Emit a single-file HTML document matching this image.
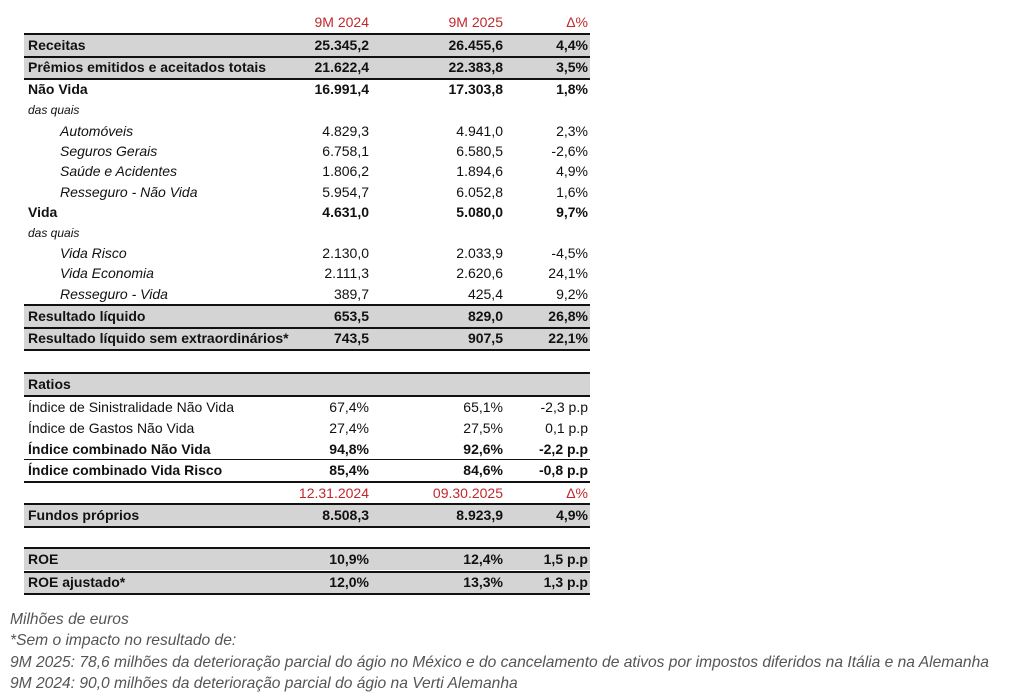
<!DOCTYPE html>
<html><head><meta charset="utf-8"><style>
body{margin:0;width:1015px;height:698px;background:#fff;position:relative;font-family:"Liberation Sans",sans-serif;color:#111;overflow:hidden}
.r{position:absolute;left:24px;width:566px;height:21px;font-size:14px;line-height:21px}
.g{background:#d4d4d4}
.b{font-weight:bold}
.l{position:absolute;left:4px;white-space:nowrap}
.s{left:36px;font-style:italic}
.d{left:4px;font-style:italic;font-size:12px}
.c1,.c2,.c3{position:absolute;text-align:right;white-space:nowrap}
.c1{right:221px}.c2{right:87px}.c3{right:2px}
.red{color:#c0282d}
.hl{position:absolute;left:24px;width:566px;background:#111}
.f{position:absolute;left:10px;font-size:15.6px;font-style:italic;color:#555;white-space:nowrap}
</style></head><body>
<div class="r red" style="top:12px"><span class="c1">9M 2024</span><span class="c2">9M 2025</span><span class="c3">Δ%</span></div>
<div class="r g b" style="top:35px"><span class="l">Receitas</span><span class="c1">25.345,2</span><span class="c2">26.455,6</span><span class="c3">4,4%</span></div>
<div class="r g b" style="top:57px"><span class="l">Prêmios emitidos e aceitados totais</span><span class="c1">21.622,4</span><span class="c2">22.383,8</span><span class="c3">3,5%</span></div>
<div class="r b" style="top:79px"><span class="l">Não Vida</span><span class="c1">16.991,4</span><span class="c2">17.303,8</span><span class="c3">1,8%</span></div>
<div class="r" style="top:100px"><span class="l d">das quais</span></div>
<div class="r" style="top:121px"><span class="l s">Automóveis</span><span class="c1">4.829,3</span><span class="c2">4.941,0</span><span class="c3">2,3%</span></div>
<div class="r" style="top:141px"><span class="l s">Seguros Gerais</span><span class="c1">6.758,1</span><span class="c2">6.580,5</span><span class="c3">-2,6%</span></div>
<div class="r" style="top:161px"><span class="l s">Saúde e Acidentes</span><span class="c1">1.806,2</span><span class="c2">1.894,6</span><span class="c3">4,9%</span></div>
<div class="r" style="top:182px"><span class="l s">Resseguro - Não Vida</span><span class="c1">5.954,7</span><span class="c2">6.052,8</span><span class="c3">1,6%</span></div>
<div class="r b" style="top:202px"><span class="l">Vida</span><span class="c1">4.631,0</span><span class="c2">5.080,0</span><span class="c3">9,7%</span></div>
<div class="r" style="top:223px"><span class="l d">das quais</span></div>
<div class="r" style="top:243px"><span class="l s">Vida Risco</span><span class="c1">2.130,0</span><span class="c2">2.033,9</span><span class="c3">-4,5%</span></div>
<div class="r" style="top:263px"><span class="l s">Vida Economia</span><span class="c1">2.111,3</span><span class="c2">2.620,6</span><span class="c3">24,1%</span></div>
<div class="r" style="top:284px"><span class="l s">Resseguro - Vida</span><span class="c1">389,7</span><span class="c2">425,4</span><span class="c3">9,2%</span></div>
<div class="r g b" style="top:306px"><span class="l">Resultado líquido</span><span class="c1">653,5</span><span class="c2">829,0</span><span class="c3">26,8%</span></div>
<div class="r g b" style="top:328px"><span class="l">Resultado líquido sem extraordinários*</span><span class="c1">743,5</span><span class="c2">907,5</span><span class="c3">22,1%</span></div>
<div class="r g b" style="top:374px"><span class="l">Ratios</span></div>
<div class="r" style="top:397px"><span class="l">Índice de Sinistralidade Não Vida</span><span class="c1">67,4%</span><span class="c2">65,1%</span><span class="c3">-2,3 p.p</span></div>
<div class="r" style="top:418px"><span class="l">Índice de Gastos Não Vida</span><span class="c1">27,4%</span><span class="c2">27,5%</span><span class="c3">0,1 p.p</span></div>
<div class="r b" style="top:439px"><span class="l">Índice combinado Não Vida</span><span class="c1">94,8%</span><span class="c2">92,6%</span><span class="c3">-2,2 p.p</span></div>
<div class="r b" style="top:460px"><span class="l">Índice combinado Vida Risco</span><span class="c1">85,4%</span><span class="c2">84,6%</span><span class="c3">-0,8 p.p</span></div>
<div class="r red" style="top:483px"><span class="c1">12.31.2024</span><span class="c2">09.30.2025</span><span class="c3">Δ%</span></div>
<div class="r g b" style="top:505px"><span class="l">Fundos próprios</span><span class="c1">8.508,3</span><span class="c2">8.923,9</span><span class="c3">4,9%</span></div>
<div class="r g b" style="top:549px"><span class="l">ROE</span><span class="c1">10,9%</span><span class="c2">12,4%</span><span class="c3">1,5 p.p</span></div>
<div class="r g b" style="top:572px"><span class="l">ROE ajustado*</span><span class="c1">12,0%</span><span class="c2">13,3%</span><span class="c3">1,3 p.p</span></div>

<div class="hl" style="top:33px;height:2px"></div>
<div class="hl" style="top:56px;height:2px"></div>
<div class="hl" style="top:78px;height:2px"></div>
<div class="hl" style="top:304px;height:2px"></div>
<div class="hl" style="top:327px;height:2px"></div>
<div class="hl" style="top:349px;height:2px"></div>
<div class="hl" style="top:372px;height:2px"></div>
<div class="hl" style="top:395px;height:2px"></div>
<div class="hl" style="top:459px;height:1px"></div>
<div class="hl" style="top:481px;height:2px"></div>
<div class="hl" style="top:503px;height:2px"></div>
<div class="hl" style="top:526px;height:2px"></div>
<div class="hl" style="top:547px;height:2px"></div>
<div class="hl" style="top:571px;height:2px"></div>
<div class="hl" style="top:593px;height:2px"></div>

<div class="f" style="top:611px">Milhões de euros</div>
<div class="f" style="top:632px">*Sem o impacto no resultado de:</div>
<div class="f" style="top:654px">9M 2025: 78,6 milhões da deterioração parcial do ágio no México e do cancelamento de ativos por impostos diferidos na Itália e na Alemanha</div>
<div class="f" style="top:675px">9M 2024: 90,0 milhões da deterioração parcial do ágio na Verti Alemanha</div>
</body></html>
